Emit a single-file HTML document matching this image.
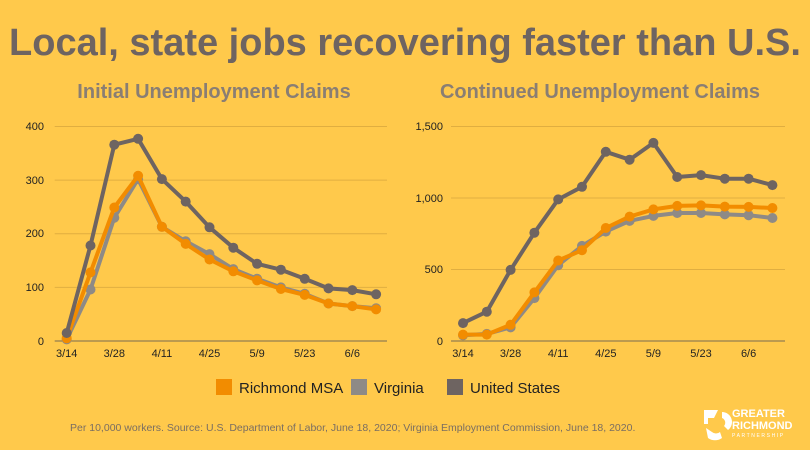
<!DOCTYPE html>
<html><head><meta charset="utf-8"><style>
body{margin:0;width:810px;height:450px;background:#FFC94B;overflow:hidden;font-family:"Liberation Sans",sans-serif}
svg{position:absolute;left:0;top:0}
</style></head><body>
<svg id="s" width="810" height="450" xmlns="http://www.w3.org/2000/svg" font-family="Liberation Sans, sans-serif">
<text x="405" y="55" text-anchor="middle" font-size="38" font-weight="bold" fill="#6E6461">Local, state jobs recovering faster than U.S.</text>
<text x="214" y="98" text-anchor="middle" font-size="20" font-weight="bold" fill="#8A7E73">Initial Unemployment Claims</text>
<text x="600" y="98" text-anchor="middle" font-size="20" font-weight="bold" fill="#8A7E73">Continued Unemployment Claims</text>
<g font-size="11" fill="#222">
<text x="44" y="130" text-anchor="end">400</text><text x="44" y="184" text-anchor="end">300</text><text x="44" y="237" text-anchor="end">200</text><text x="44" y="291" text-anchor="end">100</text><text x="44" y="345" text-anchor="end">0</text>
<text x="443" y="130" text-anchor="end">1,500</text><text x="443" y="202" text-anchor="end">1,000</text><text x="443" y="273" text-anchor="end">500</text><text x="443" y="345" text-anchor="end">0</text>
</g>
<g id="g"></g>
<g font-size="15" fill="#222">
<rect x="216" y="379" width="16" height="16" fill="#F28C00"/><text x="239" y="393">Richmond MSA</text>
<rect x="351" y="379" width="16" height="16" fill="#8E8A86"/><text x="374" y="393">Virginia</text>
<rect x="447" y="379" width="16" height="16" fill="#6E6461"/><text x="470" y="393">United States</text>
</g>
<text x="70" y="431" font-size="10.5" fill="#7a6e62">Per 10,000 workers. Source: U.S. Department of Labor, June 18, 2020; Virginia Employment Commission, June 18, 2020.</text>
<path d="M704 410 h14 l-4 8 h-6 v6 h-4z M722 412 a10 10 0 0 1 6 18 l-4-4 a5 5 0 0 0-2-8z M706 428 l6 4 a6 6 0 0 0 8 0 l2 6 a12 12 0 0 1-14 0z" fill="#fff"/>
<text x="732" y="417" font-size="11" font-weight="bold" fill="#fff">GREATER</text>
<text x="732" y="429" font-size="11" font-weight="bold" fill="#fff">RICHMOND</text>
<text x="732" y="437" font-size="5" fill="#fff" letter-spacing="1.6">PARTNERSHIP</text>
</svg>
<script>
var g=document.getElementById('g'),h='';
var lx=['3/14','3/28','4/11','4/25','5/9','5/23','6/6'];
function chart(x0,gx1,max,step,series){
 var sy=214.5/max;
 for(var v=step;v<=max;v+=step){var y=341-v*sy;h+='<line x1="'+(x0-12)+'" x2="'+gx1+'" y1="'+y+'" y2="'+y+'" stroke="#E0AE40" stroke-width="1"/>';}
 h+='<line x1="'+(x0-12)+'" x2="'+gx1+'" y1="341" y2="341" stroke="#7a6a50" stroke-width="1"/>';
 for(var i=0;i<7;i++)h+='<text x="'+(x0+i*47.6)+'" y="357" font-size="11" fill="#222" text-anchor="middle">'+lx[i]+'</text>';
 series.forEach(function(s){var p=s[1].map(function(v,i){return (x0+i*23.8).toFixed(1)+','+(341-v*sy).toFixed(1)});
  h+='<polyline points="'+p.join(' ')+'" fill="none" stroke="'+s[0]+'" stroke-width="4" stroke-linejoin="round"/>';
  p.forEach(function(q){var c=q.split(',');h+='<circle cx="'+c[0]+'" cy="'+c[1]+'" r="5" fill="'+s[0]+'"/>';});});
}
chart(66.7,387,400,100,[
['#8E8A86',[3,96,230,302,213,186,162,134,116,100,88,70,65,61]],
['#F28C00',[5,128,249,308,213,181,152,130,113,97,86,70,65,59]],
['#6E6461',[15,178,366,377,302,260,212,174,144,133,116,98,95,87]]]);
chart(463,785,1500,500,[
['#8E8A86',[40,50,95,300,530,665,765,840,875,895,895,885,880,860]],
['#F28C00',[45,45,113,340,563,635,790,870,920,945,948,940,938,930]],
['#6E6461',[125,205,497,757,990,1078,1323,1268,1385,1147,1160,1135,1135,1090]]]);
g.innerHTML=h;
</script>
</body></html>
